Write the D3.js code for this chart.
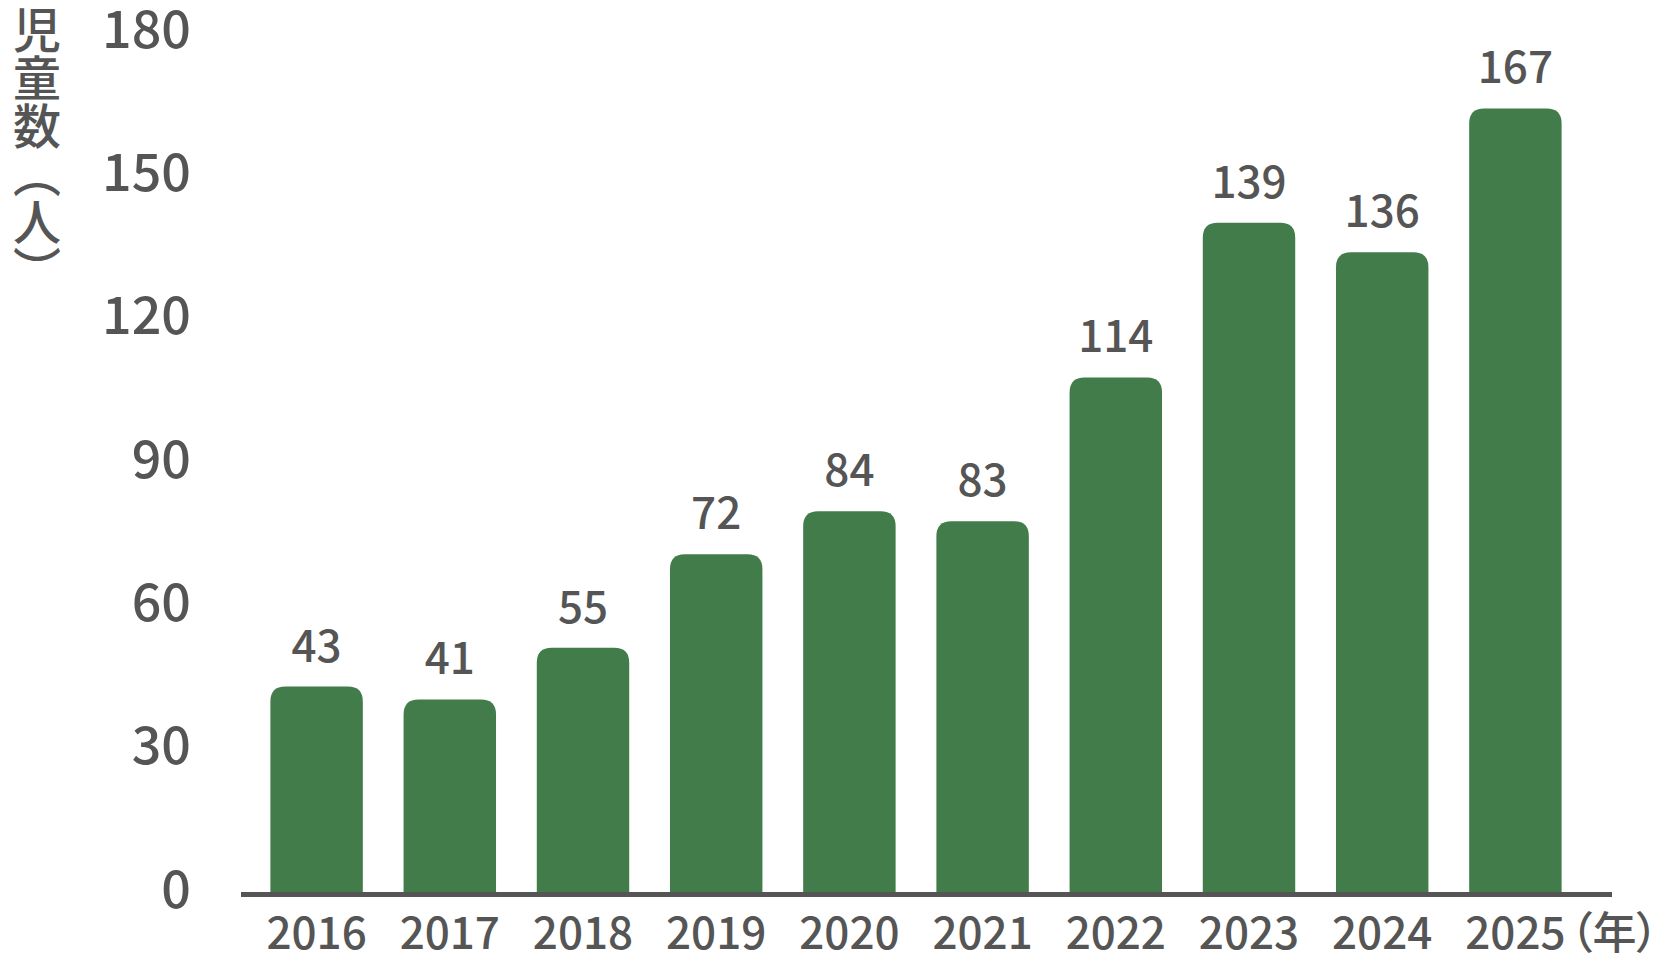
<!DOCTYPE html>
<html>
<head>
<meta charset="utf-8">
<script src="https://cdn.jsdelivr.net/npm/d3@7"></script>
<style>
    html, body { margin: 0; padding: 0; background: #fff; }
    svg { display: block; }
</style>
</head>
<body>
<script>
var years =       ['2016', '2017', '2018', '2019', '2020', '2021', '2022', '2023', '2024', '2025'];
var barValues =   [43, 40.3, 51.1, 70.7, 79.7, 77.6, 107.7, 140.1, 133.9, 164];
var valueLabels = ['43', '41', '55', '72', '84', '83', '114', '139', '136', '167'];
var yTicks =      [0, 30, 60, 90, 120, 150, 180];
var yTitle =      '児童数（人）';
var xUnit =       '（年）';

var Chart = function(config) {
    this.setupSettings(config);
    this.createSVG();
    this.createScales();
    this.createYAxis();
    this.createBars();
    this.createXAxis();
}

Chart.prototype.setupSettings = function(config) {
    this.container =  config && config.container || 'body';
    this.width =      config && config.width || 1658;
    this.height =     config && config.height || 962;
    this.font =       '"Noto Sans CJK JP", "Noto Sans", sans-serif';
    this.textColor =  '#555555';
    this.barColor =   '#437c4b';
    this.baseline =   892;
    this.top =        32;
    this.radius =     15;
}

Chart.prototype.createSVG = function() {
    this.svg = d3.select(this.container).append('svg')
        .attr('width', this.width)
        .attr('height', this.height)
        .style('font-family', this.font);
}

Chart.prototype.createScales = function() {
    this.x = d3.scaleBand()
        .domain(years)
        .range([250, 1582])
        .paddingInner(0.306)
        .paddingOuter(0.153);

    this.y = d3.scaleLinear()
        .domain([0, 180])
        .range([this.baseline, this.top]);
}

Chart.prototype.createYAxis = function() {
    var obj = this;
    this.svg.append('g').selectAll('text')
        .data(yTicks)
        .enter()
            .append('text')
            .attr('x', 191)
            .attr('y', function(d) { return obj.y(d) - 3; })
            .attr('dy', '0.36em')
            .attr('text-anchor', 'end')
            .attr('fill', this.textColor)
            .attr('font-size', 52)
            .attr('font-weight', 500)
            .text(function(d) { return d; });

    this.svg.append('text')
        .attr('x', 37)
        .attr('y', 6)
        .attr('fill', this.textColor)
        .attr('font-size', 48)
        .attr('font-weight', 500)
        .style('writing-mode', 'vertical-rl')
        .text(yTitle);
}

Chart.prototype.createBars = function() {
    var obj = this;
    var r = this.radius;
    // rounded top corners only
    var barPath = function(d, i) {
        var x0 = obj.x(years[i]);
        var w = obj.x.bandwidth();
        var yTop = obj.y(d);
        var yBot = obj.baseline;
        return 'M' + x0 + ',' + yBot +
            'L' + x0 + ',' + (yTop + r) +
            'Q' + x0 + ',' + yTop + ' ' + (x0 + r) + ',' + yTop +
            'L' + (x0 + w - r) + ',' + yTop +
            'Q' + (x0 + w) + ',' + yTop + ' ' + (x0 + w) + ',' + (yTop + r) +
            'L' + (x0 + w) + ',' + yBot + 'Z';
    }

    this.svg.append('g').selectAll('path')
        .data(barValues)
        .enter()
            .append('path')
            .attr('fill', this.barColor)
            .attr('d', barPath);

    this.svg.append('g').selectAll('text')
        .data(barValues)
        .enter()
            .append('text')
            .attr('x', function(d, i) { return obj.x(years[i]) + obj.x.bandwidth() / 2; })
            .attr('y', function(d) { return obj.y(d) - 25; })
            .attr('text-anchor', 'middle')
            .attr('fill', this.textColor)
            .attr('font-size', 44)
            .attr('font-weight', 500)
            .text(function(d, i) { return valueLabels[i]; });
}

Chart.prototype.createXAxis = function() {
    var obj = this;
    this.svg.append('line')
        .attr('x1', 241)
        .attr('x2', 1612)
        .attr('y1', this.baseline + 2.5)
        .attr('y2', this.baseline + 2.5)
        .attr('stroke', this.textColor)
        .attr('stroke-width', 5);

    this.svg.append('g').selectAll('text')
        .data(years)
        .enter()
            .append('text')
            .attr('x', function(d) { return obj.x(d) + obj.x.bandwidth() / 2; })
            .attr('y', 949)
            .attr('text-anchor', 'middle')
            .attr('fill', this.textColor)
            .attr('font-size', 44)
            .attr('font-weight', 500)
            .text(function(d) { return d; });

    var last = years[years.length - 1];
    this.svg.append('text')
        .attr('x', this.x(last) + this.x.bandwidth() / 2 + 55)
        .attr('y', 949)
        .attr('fill', this.textColor)
        .attr('font-size', 44)
        .attr('font-weight', 500)
        .style('font-feature-settings', '"palt"')
        .text(xUnit);
}

var chart = new Chart({ container: 'body', width: 1658, height: 962 });
</script>
</body>
</html>
